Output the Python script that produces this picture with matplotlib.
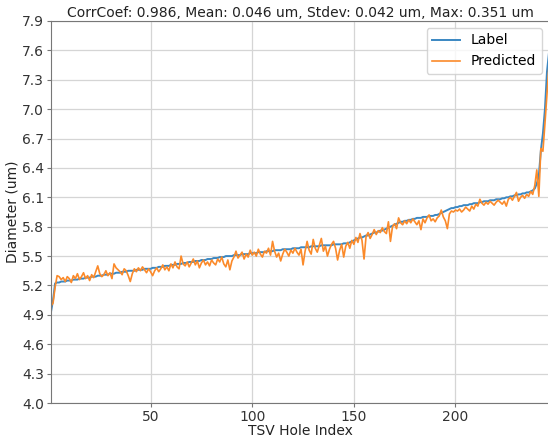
import numpy as np
import matplotlib
matplotlib.use("Agg")
import matplotlib.pyplot as plt

# sorted label diameters (um), one per TSV hole
label = [
    4.93, 5.05, 5.22, 5.23, 5.23, 5.24, 5.24, 5.24, 5.25, 5.25,
    5.25, 5.26, 5.26, 5.26, 5.27, 5.27, 5.27, 5.28, 5.28, 5.28,
    5.29, 5.29, 5.29, 5.30, 5.30, 5.30, 5.31, 5.31, 5.31, 5.32,
    5.32, 5.32, 5.33, 5.33, 5.33, 5.34, 5.34, 5.34, 5.35, 5.35,
    5.35, 5.35, 5.36, 5.36, 5.36, 5.36, 5.37, 5.37, 5.37, 5.37,
    5.38, 5.38, 5.38, 5.39, 5.39, 5.39, 5.40, 5.40, 5.40, 5.41,
    5.41, 5.41, 5.42, 5.42, 5.42, 5.43, 5.43, 5.43, 5.44, 5.44,
    5.44, 5.45, 5.45, 5.45, 5.46, 5.46, 5.46, 5.47, 5.47, 5.47,
    5.48, 5.48, 5.48, 5.49, 5.49, 5.49, 5.50, 5.50, 5.50, 5.50,
    5.51, 5.51, 5.51, 5.51, 5.52, 5.52, 5.52, 5.52, 5.53, 5.53,
    5.53, 5.53, 5.54, 5.54, 5.54, 5.54, 5.55, 5.55, 5.55, 5.55,
    5.56, 5.56, 5.56, 5.56, 5.57, 5.57, 5.57, 5.57, 5.57, 5.58,
    5.58, 5.58, 5.58, 5.59, 5.59, 5.59, 5.59, 5.59, 5.60, 5.60,
    5.60, 5.60, 5.60, 5.61, 5.61, 5.61, 5.61, 5.61, 5.61, 5.62,
    5.62, 5.62, 5.62, 5.62, 5.63, 5.63, 5.63, 5.64, 5.65, 5.66,
    5.67, 5.68, 5.69, 5.69, 5.70, 5.71, 5.71, 5.72, 5.73, 5.74,
    5.74, 5.75, 5.76, 5.76, 5.77, 5.78, 5.79, 5.80, 5.81, 5.82,
    5.83, 5.84, 5.85, 5.85, 5.86, 5.86, 5.87, 5.87, 5.88, 5.88,
    5.89, 5.89, 5.89, 5.90, 5.90, 5.90, 5.91, 5.91, 5.91, 5.92,
    5.92, 5.93, 5.94, 5.95, 5.96, 5.97, 5.98, 5.99, 5.99, 6.00,
    6.00, 6.01, 6.01, 6.02, 6.02, 6.02, 6.03, 6.03, 6.04, 6.04,
    6.04, 6.05, 6.05, 6.06, 6.06, 6.06, 6.07, 6.07, 6.07, 6.08,
    6.08, 6.08, 6.09, 6.09, 6.10, 6.10, 6.11, 6.11, 6.12, 6.12,
    6.13, 6.13, 6.14, 6.14, 6.15, 6.15, 6.16, 6.17, 6.19, 6.24,
    6.32, 6.58, 6.75, 7.00, 7.38, 7.58,
]

# model prediction for the same holes
predicted = [
    4.99, 5.02, 5.18, 5.30, 5.29, 5.26, 5.28, 5.24, 5.29, 5.27,
    5.23, 5.30, 5.27, 5.32, 5.26, 5.29, 5.33, 5.27, 5.30, 5.25,
    5.31, 5.28, 5.34, 5.40, 5.32, 5.29, 5.31, 5.35, 5.30, 5.33,
    5.27, 5.42, 5.38, 5.36, 5.34, 5.31, 5.37, 5.35, 5.30, 5.24,
    5.32, 5.37, 5.34, 5.38, 5.35, 5.39, 5.36, 5.33, 5.37, 5.34,
    5.30, 5.35, 5.38, 5.34, 5.37, 5.41, 5.36, 5.39, 5.35, 5.42,
    5.38, 5.44, 5.39, 5.37, 5.50, 5.42, 5.40, 5.44, 5.39, 5.43,
    5.47, 5.41, 5.45, 5.38, 5.43, 5.46, 5.41, 5.44, 5.40, 5.46,
    5.43, 5.41, 5.47, 5.44, 5.49, 5.42, 5.39, 5.46, 5.36, 5.45,
    5.49, 5.55, 5.48, 5.51, 5.54, 5.47, 5.52, 5.49, 5.56, 5.51,
    5.54, 5.50, 5.57, 5.52, 5.49, 5.55, 5.53, 5.58, 5.51, 5.65,
    5.55, 5.49, 5.53, 5.45, 5.52, 5.57, 5.54, 5.50, 5.56, 5.53,
    5.58, 5.54, 5.51, 5.57, 5.41, 5.55, 5.65, 5.56, 5.52, 5.67,
    5.58, 5.54, 5.61, 5.68, 5.55, 5.60, 5.50, 5.57, 5.62, 5.65,
    5.58, 5.46, 5.56, 5.62, 5.49, 5.60, 5.64, 5.58, 5.66, 5.62,
    5.69, 5.64, 5.73, 5.66, 5.47, 5.70, 5.74, 5.68, 5.72, 5.77,
    5.72, 5.76, 5.74, 5.79, 5.75, 5.73, 5.85, 5.65, 5.80, 5.83,
    5.78, 5.89, 5.84, 5.82, 5.86, 5.83, 5.87, 5.84, 5.88, 5.85,
    5.82, 5.86, 5.77, 5.88, 5.84, 5.89, 5.92, 5.86, 5.88, 5.85,
    5.89, 5.91, 5.97, 5.90, 5.86, 5.78, 5.93, 5.96, 5.95, 5.97,
    5.96, 5.98, 5.95, 5.97, 6.00, 5.98, 5.96, 6.01, 5.98, 6.03,
    6.01, 6.08, 6.04, 6.02, 6.05, 6.03, 6.06, 6.04, 6.02, 6.05,
    6.07, 6.05, 6.03, 6.06, 6.01, 6.08, 6.10, 6.07, 6.11, 6.15,
    6.06, 6.10, 6.12, 6.09, 6.13, 6.11, 6.16, 6.13, 6.22, 6.38,
    6.11, 6.60, 6.57, 6.85, 7.15, 7.45,
]

y_ticks = [4.0, 4.3, 4.6, 4.9, 5.2, 5.5, 5.8, 6.1, 6.4, 6.7, 7.0, 7.3, 7.6, 7.9]
x_ticks = [50, 100, 150, 200]
title = "CorrCoef: 0.986, Mean: 0.046 um, Stdev: 0.042 um, Max: 0.351 um"

idx = np.arange(1, len(label) + 1)

fig = plt.figure(figsize=(5.48, 4.40), dpi=100)
ax = fig.add_axes([51 / 548, 37 / 440, 498 / 548, 382 / 440])

ax.plot(idx, label, color="#3a87c2", linewidth=1.4, label="Label")
ax.plot(idx, predicted, color="#fb8a2a", linewidth=1.2, label="Predicted")

ax.set_xlim(1, len(label))
ax.set_ylim(4.0, 7.9)
ax.set_yticks(y_ticks)
ax.set_xticks(x_ticks)
ax.grid(True, color="#d5d5d5", linewidth=0.9)
for side in ["left", "bottom", "top", "right"]:
    ax.spines[side].set_color("#777777")
ax.tick_params(colors="#333333", labelsize=10, length=3, pad=2, color="#777777")

ax.set_title(title, fontsize=10, pad=3, color="#222222")
ax.set_xlabel("TSV Hole Index", fontsize=10, labelpad=0, color="#222222")
ax.set_ylabel("Diameter (um)", fontsize=10, labelpad=2, color="#222222")
ax.legend(loc="upper right", fontsize=10)

fig.savefig("out.png", dpi=100)
